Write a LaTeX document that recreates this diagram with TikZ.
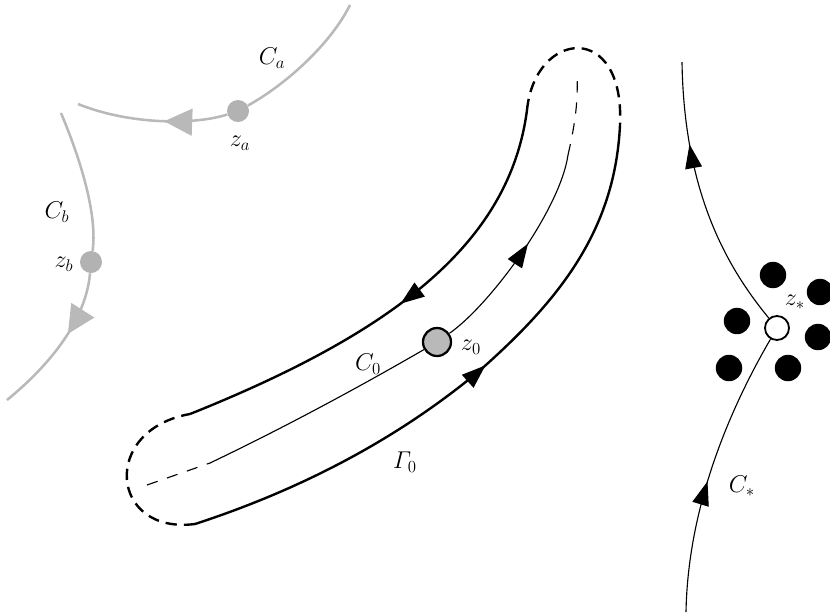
\documentclass[tikz,border=0pt]{standalone}
\usepackage{amsmath,amssymb}
\usepackage{xcolor}
\usepackage{tikz}
\usetikzlibrary{arrows.meta,positioning,decorations.markings}
\tikzset{
  lbl/.style        ={font=\LARGE,inner sep=1pt},
  farcurve/.style   ={draw=gray!55,line width=1.8pt},
  contour/.style    ={line width=1.7pt},
  contourdash/.style={line width=1.7pt,dash pattern=on 8pt off 5pt},
  path0/.style      ={line width=0.8pt},
  path0dash/.style  ={line width=0.8pt,dash pattern=on 8pt off 7pt},
  tipat/.style      ={postaction={decorate,decoration={markings,
                      mark=at position #1 with {\arrow{Triangle[length=17pt,width=12pt]}}}}},
  bigtipat/.style   ={postaction={decorate,decoration={markings,
                      mark=at position #1 with {\arrow{Triangle[length=20pt,width=19pt]}}}}},
  graydot/.style    ={circle,fill=gray!60,minimum size=5.5mm,inner sep=0pt},
  saddle/.style     ={circle,draw,line width=1.6pt,fill=gray!55,minimum size=7mm,inner sep=0pt},
  pole/.style       ={circle,fill=black,minimum size=6.6mm,inner sep=0pt},
  hollow/.style     ={circle,draw,line width=1.3pt,fill=white,minimum size=6mm,inner sep=0pt},
}

\begin{document}
\begin{tikzpicture}[x=0.025cm,y=-0.025cm]
  \useasboundingbox (0,0) rectangle (830,614);
  % points the contours pass through
  \node[graydot] (za) at (238,111) {};
  \node[graydot] (zb) at (91,262) {};
  \node[saddle]  (zzero) at (437,342) {};
  \node[hollow]  (zstar) at (777,328) {};
  % far contours C_a, C_b
  \draw[farcurve] (350,5) .. controls (330,45) and (285,85) .. (za);
  \draw[farcurve,bigtipat=0.42] (za) .. controls (195,125) and (130,125) .. (78,104);
  \draw[farcurve] (61,113) .. controls (85,170) and (97,220) .. (zb);
  \draw[farcurve,bigtipat=0.42] (zb) .. controls (86,320) and (50,365) .. (7,400);
  % Gamma_0 round C_0
  \draw[contour,tipat=0.5] (527,110) .. controls (510,240) and (400,330) .. (190,414);
  \draw[contourdash] (527,110) .. controls (535,30) and (625,20) .. (620,125);
  \draw[contour,tipat=0.54] (195,524) .. controls (330,480) and (420,420) .. (478,372)
        .. controls (560,300) and (615,230) .. (620,125);
  \draw[contourdash] (195,524) .. controls (110,535) and (100,430) .. (190,414);
  % C_0
  \draw[path0dash] (147,485) -- (210,463);
  \draw[path0] (210,463) .. controls (300,420) and (380,375) .. (zzero);
  \draw[path0,tipat=0.55] (zzero) .. controls (490,305) and (560,210) .. (568,155);
  \draw[path0dash] (568,155) .. controls (576,120) and (578,100) .. (577,73);
  % C_* through z_*
  \draw[path0,tipat=0.7] (zstar) .. controls (725,265) and (684,190) .. (682,62);
  \draw[path0,tipat=0.46] (686,612) .. controls (688,500) and (735,400) .. (zstar);
  \foreach \x/\y [count=\i] in {773/275,820/292,737/321,818/337,729/368,788/368}
    \node[pole] (p\i) at (\x,\y) {};
  % labels
  \node[lbl] (calbl) at (272,58) {$C_a$};
  \node[lbl] (zalbl) at (240,143) {$z_a$};
  \node[lbl] (cblbl) at (57,212) {$C_b$};
  \node[lbl] (zblbl) at (64,264) {$z_b$};
  \node[lbl] (czerolbl) at (368,364) {$C_0$};
  \node[lbl] (zzerolbl) at (471,347) {$z_0$};
  \node[lbl] (gzerolbl) at (405,462) {$\varGamma_0$};
  \node[lbl] (cstarlbl) at (742,486) {$C_*$};
  \node[lbl] (zstarlbl) at (795,302) {$z_*$};
\end{tikzpicture}
\end{document}
